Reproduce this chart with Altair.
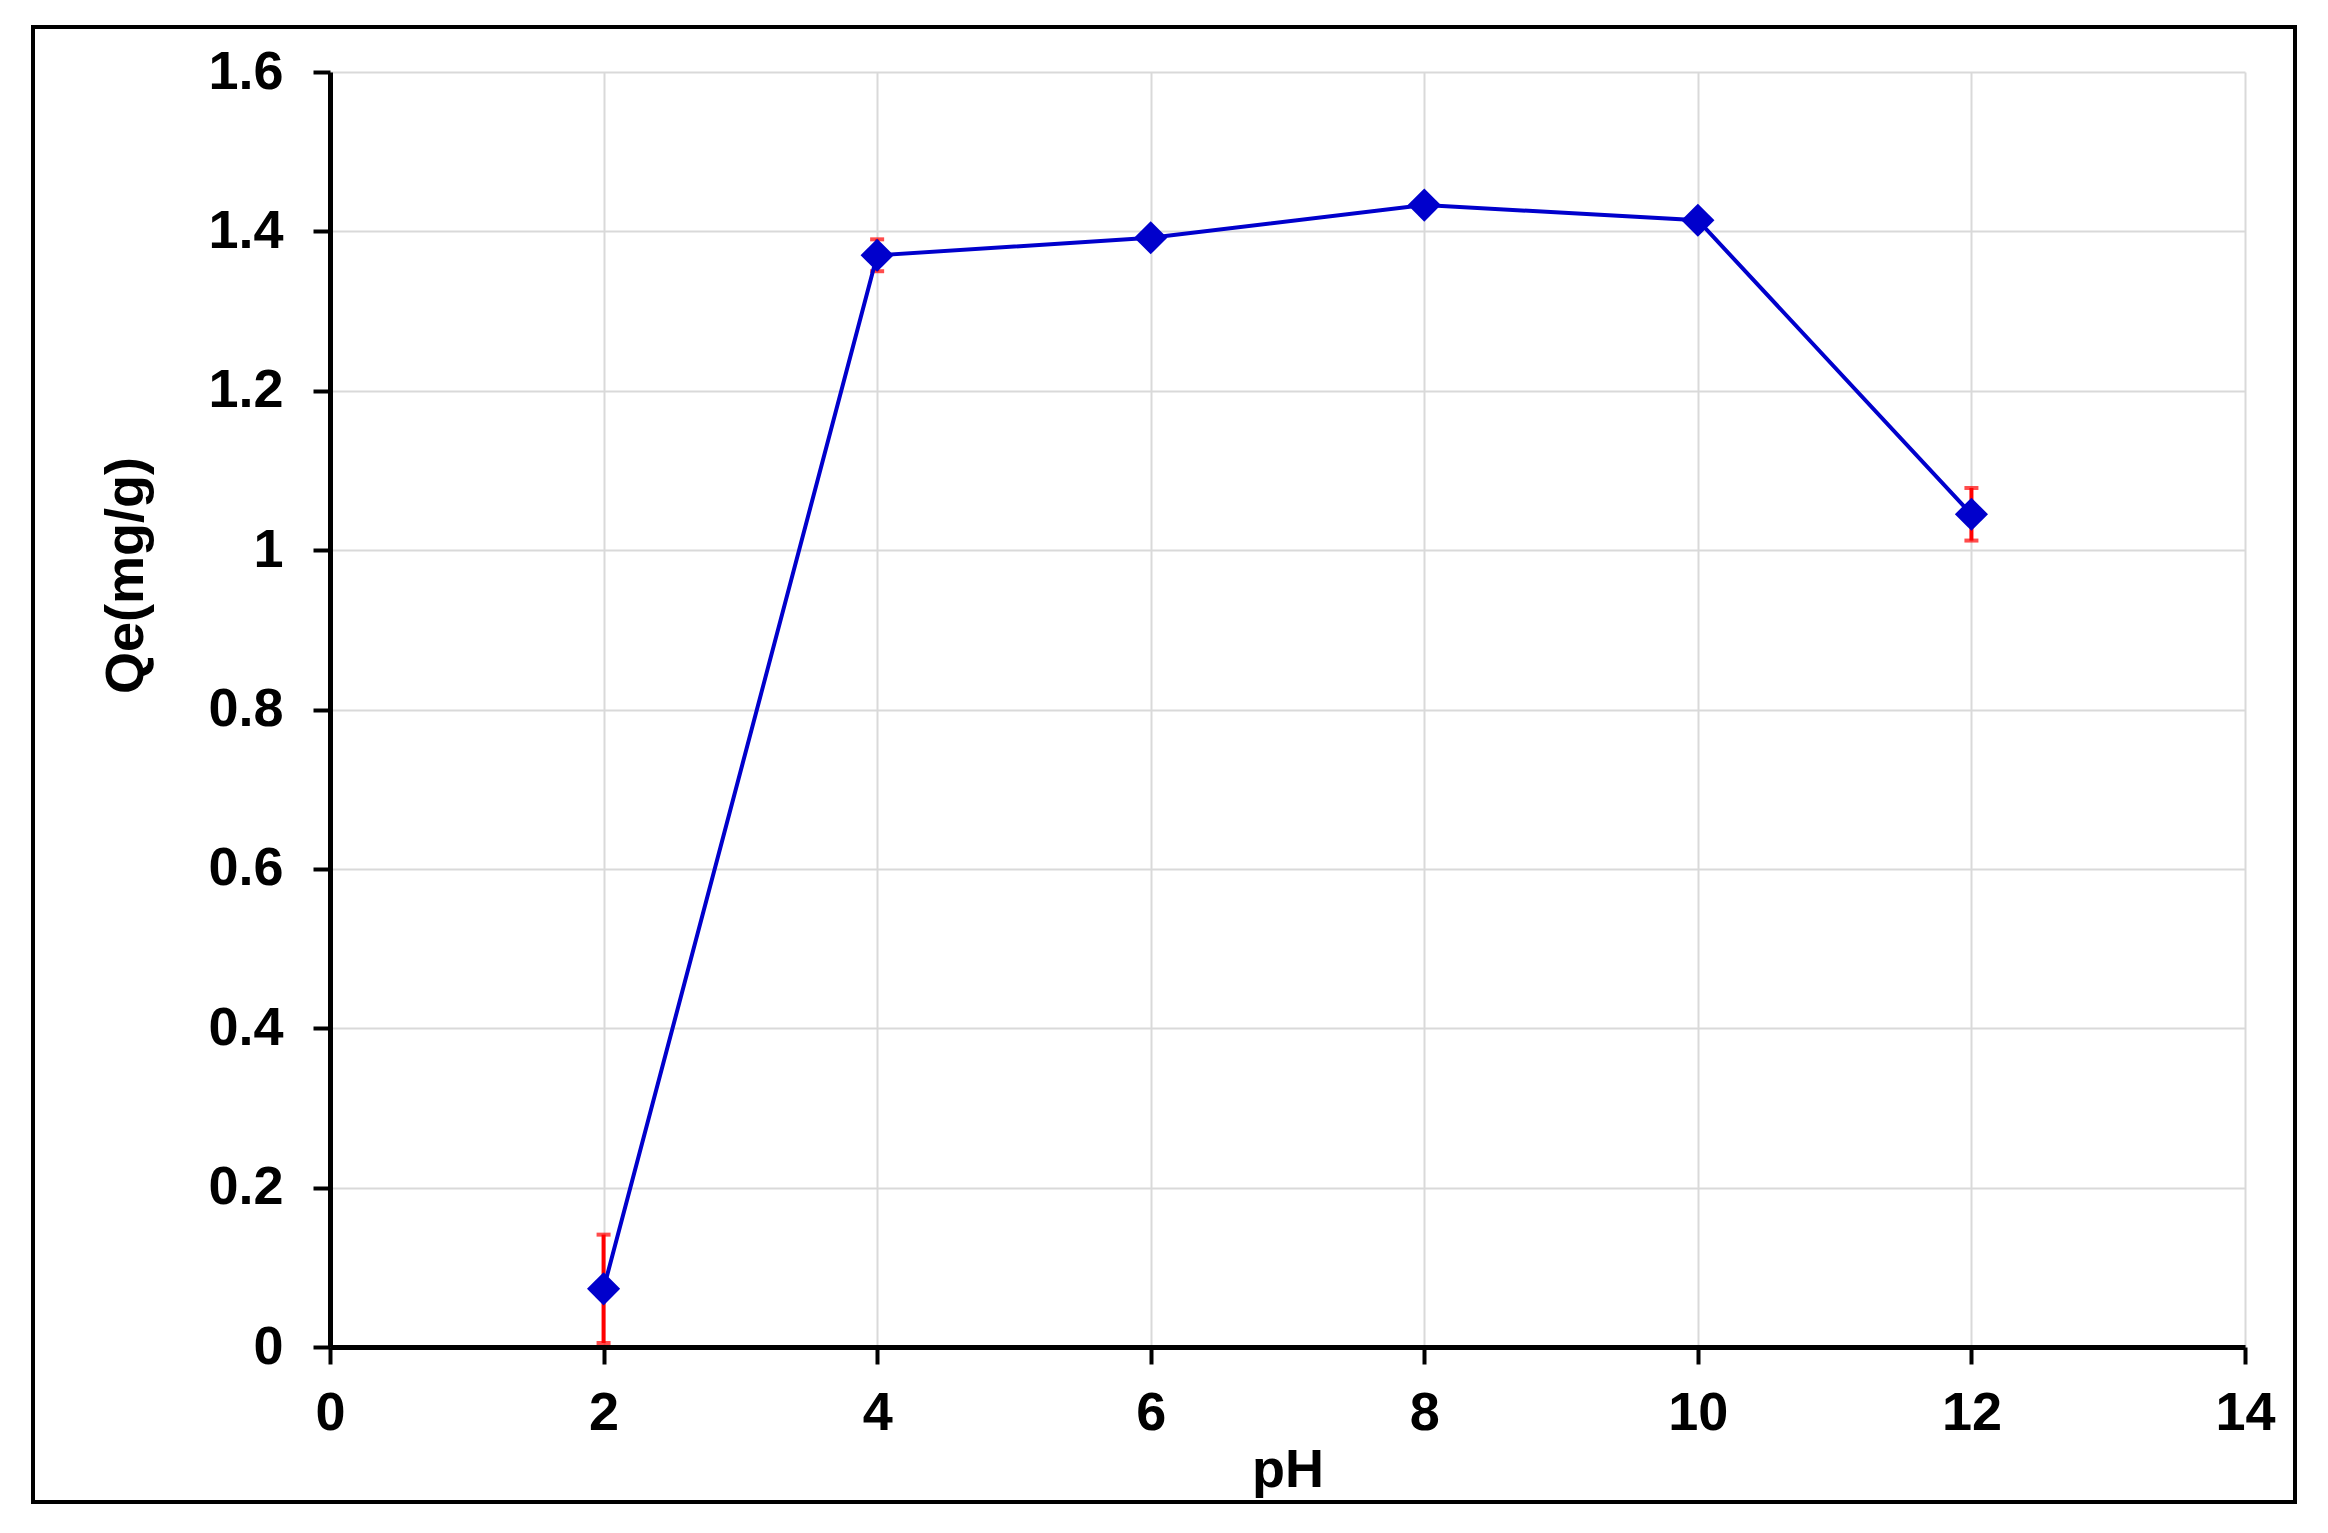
import altair as alt
import pandas as pd

ph = [2, 4, 6, 8, 10, 12]
qe = [0.073, 1.370, 1.392, 1.433, 1.414, 1.045]
err = [0.068, 0.020, 0.004, 0.004, 0.004, 0.033]

x_ticks = [0, 2, 4, 6, 8, 10, 12, 14]
y_ticks = [0, 0.2, 0.4, 0.6, 0.8, 1.0, 1.2, 1.4, 1.6]

df = pd.DataFrame({"pH": ph, "Qe": qe, "err": err})
df["lo"] = df["Qe"] - df["err"]
df["hi"] = df["Qe"] + df["err"]

FONT = "Liberation Sans"
W, H = 1915, 1275

xs = alt.Scale(domain=[0, 14], nice=False, zero=False)
ys = alt.Scale(domain=[0, 1.6], nice=False)

x_axis = alt.Axis(
    values=x_ticks, title="pH", format="d", grid=True, gridColor="#d9d9d9", gridWidth=2,
    domainColor="black", domainWidth=5, tickColor="black", tickWidth=4, tickSize=17,
    labelFont=FONT, labelFontSize=54, labelFontWeight="bold", labelColor="black",
    labelPadding=22, labelFlush=False,
    titleFont=FONT, titleFontSize=54, titleFontWeight="bold", titleColor="black",
    titleX=W / 2, titleY=123, titleBaseline="middle", titleAlign="center",
)
y_axis = alt.Axis(
    values=y_ticks, title="Qe(mg/g)", format="~g", grid=True, gridColor="#d9d9d9", gridWidth=2,
    domainColor="black", domainWidth=5, tickColor="black", tickWidth=4, tickSize=17,
    labelFont=FONT, labelFontSize=54, labelFontWeight="bold", labelColor="black",
    labelPadding=30, labelFlush=False,
    titleFont=FONT, titleFontSize=54, titleFontWeight="bold", titleColor="black",
    titleAngle=-90, titleX=-204, titleY=503, titleBaseline="middle", titleAlign="center",
)

base = alt.Chart(df)

frame = alt.Chart(pd.DataFrame({"a": [0]})).mark_rect(
    filled=False, stroke="black", strokeWidth=4
).encode(
    x=alt.value(-297), x2=alt.value(1965), y=alt.value(-45), y2=alt.value(1430)
)

bars = base.mark_rule(color="#ff0000", strokeWidth=4).encode(
    x=alt.X("pH:Q", scale=xs, axis=x_axis),
    y=alt.Y("lo:Q", scale=ys, axis=y_axis),
    y2="hi:Q",
)
cap_lo = base.mark_tick(orient="horizontal", color="#ff0000", size=14, thickness=4).encode(
    x=alt.X("pH:Q", scale=xs), y=alt.Y("lo:Q", scale=ys)
)
cap_hi = base.mark_tick(orient="horizontal", color="#ff0000", size=14, thickness=4).encode(
    x=alt.X("pH:Q", scale=xs), y=alt.Y("hi:Q", scale=ys)
)
line = base.mark_line(color="#0000cc", strokeWidth=4).encode(
    x=alt.X("pH:Q", scale=xs), y=alt.Y("Qe:Q", scale=ys)
)
pts = base.mark_point(shape="diamond", filled=True, size=1100, color="#0000cc", opacity=1).encode(
    x=alt.X("pH:Q", scale=xs), y=alt.Y("Qe:Q", scale=ys)
)

chart = alt.layer(bars, cap_lo, cap_hi, line, pts, frame).properties(
    width=W, height=H,
    autosize=alt.AutoSizeParams(type="none"),
    padding={"left": 322, "top": 64, "right": 75, "bottom": 170},
    background="white",
).configure_view(stroke=None)

chart.save("out.html", embed_options={"renderer": "svg", "actions": False})
